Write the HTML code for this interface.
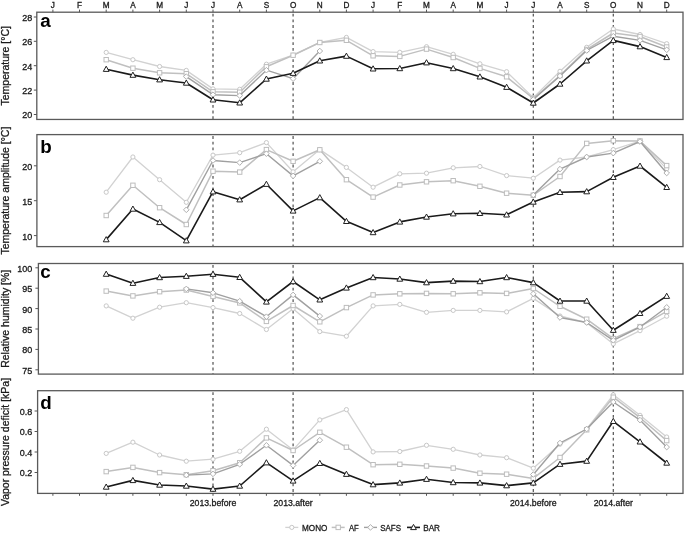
<!DOCTYPE html><html><head><meta charset="utf-8"><style>html,body{margin:0;padding:0;background:#fff;}svg{display:block;filter:grayscale(1) blur(0.35px);}text{font-family:"Liberation Sans",sans-serif;stroke:#1a1a1a;stroke-width:0.3px;fill:#1a1a1a;}</style></head><body>
<svg width="685" height="533" viewBox="0 0 685 533">
<rect width="685" height="533" fill="#fff"/>
<line x1="213.0" y1="13.7" x2="213.0" y2="119.45" stroke="#505050" stroke-width="1.2" stroke-dasharray="2.8 2.9"/>
<line x1="293.1" y1="13.7" x2="293.1" y2="119.45" stroke="#505050" stroke-width="1.2" stroke-dasharray="2.8 2.9"/>
<line x1="533.3" y1="13.7" x2="533.3" y2="119.45" stroke="#505050" stroke-width="1.2" stroke-dasharray="2.8 2.9"/>
<line x1="613.3" y1="13.7" x2="613.3" y2="119.45" stroke="#505050" stroke-width="1.2" stroke-dasharray="2.8 2.9"/>
<polyline points="106.2,52.4 132.9,59.7 159.6,66.5 186.3,70.4 213.0,88.9 239.7,89.3 266.4,64.2 293.1,55.2 319.8,42.5 346.4,37.4 373.1,51.6 399.8,52.3 426.5,46.7 453.2,54.3 479.9,63.8 506.6,71.7 533.3,97.6 560.0,71.3 586.7,47.3 613.3,29.0 640.0,34.5 666.7,43.7" fill="none" stroke="#d2d2d2" stroke-width="1.3" stroke-linejoin="round"/>
<circle cx="106.2" cy="52.4" r="2.1" fill="#fff" stroke="#c8c8c8" stroke-width="1"/>
<circle cx="132.9" cy="59.7" r="2.1" fill="#fff" stroke="#c8c8c8" stroke-width="1"/>
<circle cx="159.6" cy="66.5" r="2.1" fill="#fff" stroke="#c8c8c8" stroke-width="1"/>
<circle cx="186.3" cy="70.4" r="2.1" fill="#fff" stroke="#c8c8c8" stroke-width="1"/>
<circle cx="213.0" cy="88.9" r="2.1" fill="#fff" stroke="#c8c8c8" stroke-width="1"/>
<circle cx="239.7" cy="89.3" r="2.1" fill="#fff" stroke="#c8c8c8" stroke-width="1"/>
<circle cx="266.4" cy="64.2" r="2.1" fill="#fff" stroke="#c8c8c8" stroke-width="1"/>
<circle cx="293.1" cy="55.2" r="2.1" fill="#fff" stroke="#c8c8c8" stroke-width="1"/>
<circle cx="319.8" cy="42.5" r="2.1" fill="#fff" stroke="#c8c8c8" stroke-width="1"/>
<circle cx="346.4" cy="37.4" r="2.1" fill="#fff" stroke="#c8c8c8" stroke-width="1"/>
<circle cx="373.1" cy="51.6" r="2.1" fill="#fff" stroke="#c8c8c8" stroke-width="1"/>
<circle cx="399.8" cy="52.3" r="2.1" fill="#fff" stroke="#c8c8c8" stroke-width="1"/>
<circle cx="426.5" cy="46.7" r="2.1" fill="#fff" stroke="#c8c8c8" stroke-width="1"/>
<circle cx="453.2" cy="54.3" r="2.1" fill="#fff" stroke="#c8c8c8" stroke-width="1"/>
<circle cx="479.9" cy="63.8" r="2.1" fill="#fff" stroke="#c8c8c8" stroke-width="1"/>
<circle cx="506.6" cy="71.7" r="2.1" fill="#fff" stroke="#c8c8c8" stroke-width="1"/>
<circle cx="533.3" cy="97.6" r="2.1" fill="#fff" stroke="#c8c8c8" stroke-width="1"/>
<circle cx="560.0" cy="71.3" r="2.1" fill="#fff" stroke="#c8c8c8" stroke-width="1"/>
<circle cx="586.7" cy="47.3" r="2.1" fill="#fff" stroke="#c8c8c8" stroke-width="1"/>
<circle cx="613.3" cy="29.0" r="2.1" fill="#fff" stroke="#c8c8c8" stroke-width="1"/>
<circle cx="640.0" cy="34.5" r="2.1" fill="#fff" stroke="#c8c8c8" stroke-width="1"/>
<circle cx="666.7" cy="43.7" r="2.1" fill="#fff" stroke="#c8c8c8" stroke-width="1"/>
<polyline points="106.2,59.7 132.9,68.2 159.6,72.8 186.3,73.7 213.0,91.8 239.7,92.2 266.4,66.8 293.1,55.2 319.8,42.5 346.4,40.3 373.1,55.8 399.8,56.4 426.5,49.1 453.2,57.5 479.9,68.4 506.6,76.8 533.3,98.5 560.0,75.5 586.7,49.5 613.3,33.0 640.0,36.5 666.7,47.0" fill="none" stroke="#c0c0c0" stroke-width="1.5" stroke-linejoin="round"/>
<rect x="104.0" y="57.5" width="4.4" height="4.4" fill="#fff" stroke="#bdbdbd" stroke-width="1"/>
<rect x="130.7" y="66.0" width="4.4" height="4.4" fill="#fff" stroke="#bdbdbd" stroke-width="1"/>
<rect x="157.4" y="70.6" width="4.4" height="4.4" fill="#fff" stroke="#bdbdbd" stroke-width="1"/>
<rect x="184.1" y="71.5" width="4.4" height="4.4" fill="#fff" stroke="#bdbdbd" stroke-width="1"/>
<rect x="210.8" y="89.6" width="4.4" height="4.4" fill="#fff" stroke="#bdbdbd" stroke-width="1"/>
<rect x="237.5" y="90.0" width="4.4" height="4.4" fill="#fff" stroke="#bdbdbd" stroke-width="1"/>
<rect x="264.2" y="64.6" width="4.4" height="4.4" fill="#fff" stroke="#bdbdbd" stroke-width="1"/>
<rect x="290.9" y="53.0" width="4.4" height="4.4" fill="#fff" stroke="#bdbdbd" stroke-width="1"/>
<rect x="317.6" y="40.3" width="4.4" height="4.4" fill="#fff" stroke="#bdbdbd" stroke-width="1"/>
<rect x="344.2" y="38.1" width="4.4" height="4.4" fill="#fff" stroke="#bdbdbd" stroke-width="1"/>
<rect x="370.9" y="53.6" width="4.4" height="4.4" fill="#fff" stroke="#bdbdbd" stroke-width="1"/>
<rect x="397.6" y="54.2" width="4.4" height="4.4" fill="#fff" stroke="#bdbdbd" stroke-width="1"/>
<rect x="424.3" y="46.9" width="4.4" height="4.4" fill="#fff" stroke="#bdbdbd" stroke-width="1"/>
<rect x="451.0" y="55.3" width="4.4" height="4.4" fill="#fff" stroke="#bdbdbd" stroke-width="1"/>
<rect x="477.7" y="66.2" width="4.4" height="4.4" fill="#fff" stroke="#bdbdbd" stroke-width="1"/>
<rect x="504.4" y="74.6" width="4.4" height="4.4" fill="#fff" stroke="#bdbdbd" stroke-width="1"/>
<rect x="531.1" y="96.3" width="4.4" height="4.4" fill="#fff" stroke="#bdbdbd" stroke-width="1"/>
<rect x="557.8" y="73.3" width="4.4" height="4.4" fill="#fff" stroke="#bdbdbd" stroke-width="1"/>
<rect x="584.5" y="47.3" width="4.4" height="4.4" fill="#fff" stroke="#bdbdbd" stroke-width="1"/>
<rect x="611.1" y="30.8" width="4.4" height="4.4" fill="#fff" stroke="#bdbdbd" stroke-width="1"/>
<rect x="637.8" y="34.3" width="4.4" height="4.4" fill="#fff" stroke="#bdbdbd" stroke-width="1"/>
<rect x="664.5" y="44.8" width="4.4" height="4.4" fill="#fff" stroke="#bdbdbd" stroke-width="1"/>
<polyline points="186.3,76.6 213.0,94.7 239.7,95.6 266.4,70.2 293.1,78.7 319.8,51.0" fill="none" stroke="#a0a0a0" stroke-width="1.4" stroke-linejoin="round"/>
<polyline points="533.3,99.5 560.0,76.0 586.7,50.5 613.3,36.2 640.0,40.4 666.7,49.8" fill="none" stroke="#a0a0a0" stroke-width="1.4" stroke-linejoin="round"/>
<path d="M186.3 73.8L189.1 76.6L186.3 79.4L183.5 76.6Z" fill="#fff" stroke="#b0b0b0" stroke-width="1"/>
<path d="M213.0 91.9L215.8 94.7L213.0 97.5L210.2 94.7Z" fill="#fff" stroke="#b0b0b0" stroke-width="1"/>
<path d="M239.7 92.8L242.5 95.6L239.7 98.4L236.9 95.6Z" fill="#fff" stroke="#b0b0b0" stroke-width="1"/>
<path d="M266.4 67.4L269.2 70.2L266.4 73.0L263.6 70.2Z" fill="#fff" stroke="#b0b0b0" stroke-width="1"/>
<path d="M293.1 75.9L295.9 78.7L293.1 81.5L290.3 78.7Z" fill="#fff" stroke="#b0b0b0" stroke-width="1"/>
<path d="M319.8 48.2L322.6 51.0L319.8 53.8L317.0 51.0Z" fill="#fff" stroke="#b0b0b0" stroke-width="1"/>
<path d="M533.3 96.7L536.1 99.5L533.3 102.3L530.5 99.5Z" fill="#fff" stroke="#b0b0b0" stroke-width="1"/>
<path d="M560.0 73.2L562.8 76.0L560.0 78.8L557.2 76.0Z" fill="#fff" stroke="#b0b0b0" stroke-width="1"/>
<path d="M586.7 47.7L589.5 50.5L586.7 53.3L583.9 50.5Z" fill="#fff" stroke="#b0b0b0" stroke-width="1"/>
<path d="M613.3 33.4L616.1 36.2L613.3 39.0L610.5 36.2Z" fill="#fff" stroke="#b0b0b0" stroke-width="1"/>
<path d="M640.0 37.6L642.8 40.4L640.0 43.2L637.2 40.4Z" fill="#fff" stroke="#b0b0b0" stroke-width="1"/>
<path d="M666.7 47.0L669.5 49.8L666.7 52.6L663.9 49.8Z" fill="#fff" stroke="#b0b0b0" stroke-width="1"/>
<polyline points="106.2,69.2 132.9,75.1 159.6,79.7 186.3,83.0 213.0,99.8 239.7,102.8 266.4,79.0 293.1,73.2 319.8,60.8 346.4,56.1 373.1,68.8 399.8,68.5 426.5,62.7 453.2,68.5 479.9,76.8 506.6,87.2 533.3,103.0 560.0,84.0 586.7,60.8 613.3,40.4 640.0,46.6 666.7,57.4" fill="none" stroke="#1a1a1a" stroke-width="1.6" stroke-linejoin="round"/>
<path d="M106.2 66.2L109.1 71.4L103.3 71.4Z" fill="#fff" stroke="#222" stroke-width="1"/>
<path d="M132.9 72.1L135.8 77.3L130.0 77.3Z" fill="#fff" stroke="#222" stroke-width="1"/>
<path d="M159.6 76.7L162.5 81.9L156.7 81.9Z" fill="#fff" stroke="#222" stroke-width="1"/>
<path d="M186.3 80.0L189.2 85.2L183.4 85.2Z" fill="#fff" stroke="#222" stroke-width="1"/>
<path d="M213.0 96.8L215.9 102.0L210.1 102.0Z" fill="#fff" stroke="#222" stroke-width="1"/>
<path d="M239.7 99.8L242.6 105.0L236.8 105.0Z" fill="#fff" stroke="#222" stroke-width="1"/>
<path d="M266.4 76.0L269.3 81.2L263.5 81.2Z" fill="#fff" stroke="#222" stroke-width="1"/>
<path d="M293.1 70.2L296.0 75.4L290.2 75.4Z" fill="#fff" stroke="#222" stroke-width="1"/>
<path d="M319.8 57.8L322.7 63.0L316.9 63.0Z" fill="#fff" stroke="#222" stroke-width="1"/>
<path d="M346.4 53.1L349.3 58.3L343.5 58.3Z" fill="#fff" stroke="#222" stroke-width="1"/>
<path d="M373.1 65.8L376.0 71.0L370.2 71.0Z" fill="#fff" stroke="#222" stroke-width="1"/>
<path d="M399.8 65.5L402.7 70.7L396.9 70.7Z" fill="#fff" stroke="#222" stroke-width="1"/>
<path d="M426.5 59.7L429.4 64.9L423.6 64.9Z" fill="#fff" stroke="#222" stroke-width="1"/>
<path d="M453.2 65.5L456.1 70.7L450.3 70.7Z" fill="#fff" stroke="#222" stroke-width="1"/>
<path d="M479.9 73.8L482.8 79.0L477.0 79.0Z" fill="#fff" stroke="#222" stroke-width="1"/>
<path d="M506.6 84.2L509.5 89.4L503.7 89.4Z" fill="#fff" stroke="#222" stroke-width="1"/>
<path d="M533.3 100.0L536.2 105.2L530.4 105.2Z" fill="#fff" stroke="#222" stroke-width="1"/>
<path d="M560.0 81.0L562.9 86.2L557.1 86.2Z" fill="#fff" stroke="#222" stroke-width="1"/>
<path d="M586.7 57.8L589.6 63.0L583.8 63.0Z" fill="#fff" stroke="#222" stroke-width="1"/>
<path d="M613.3 37.4L616.2 42.6L610.4 42.6Z" fill="#fff" stroke="#222" stroke-width="1"/>
<path d="M640.0 43.6L642.9 48.8L637.1 48.8Z" fill="#fff" stroke="#222" stroke-width="1"/>
<path d="M666.7 54.4L669.6 59.6L663.8 59.6Z" fill="#fff" stroke="#222" stroke-width="1"/>
<rect x="36.8" y="12.2" width="646.2" height="107.25" fill="none" stroke="#5a5a5a" stroke-width="1.3"/>
<line x1="33.8" y1="17.0" x2="36.8" y2="17.0" stroke="#555" stroke-width="1"/>
<text x="32.3" y="20.9" font-size="9" text-anchor="end">28</text>
<line x1="33.8" y1="41.3" x2="36.8" y2="41.3" stroke="#555" stroke-width="1"/>
<text x="32.3" y="45.2" font-size="9" text-anchor="end">26</text>
<line x1="33.8" y1="65.7" x2="36.8" y2="65.7" stroke="#555" stroke-width="1"/>
<text x="32.3" y="69.6" font-size="9" text-anchor="end">24</text>
<line x1="33.8" y1="90.1" x2="36.8" y2="90.1" stroke="#555" stroke-width="1"/>
<text x="32.3" y="94.0" font-size="9" text-anchor="end">22</text>
<line x1="33.8" y1="114.5" x2="36.8" y2="114.5" stroke="#555" stroke-width="1"/>
<text x="32.3" y="118.4" font-size="9" text-anchor="end">20</text>
<text x="40.3" y="27.1" font-size="18.8" font-weight="bold" fill="#000" style="stroke:none;fill:#000">a</text>
<text transform="translate(9.4 65.8) rotate(-90)" font-size="10.5" text-anchor="middle" fill="#111">Temperature [°C]</text>
<line x1="213.0" y1="136.1" x2="213.0" y2="246.6" stroke="#505050" stroke-width="1.2" stroke-dasharray="2.8 2.9"/>
<line x1="293.1" y1="136.1" x2="293.1" y2="246.6" stroke="#505050" stroke-width="1.2" stroke-dasharray="2.8 2.9"/>
<line x1="533.3" y1="136.1" x2="533.3" y2="246.6" stroke="#505050" stroke-width="1.2" stroke-dasharray="2.8 2.9"/>
<line x1="613.3" y1="136.1" x2="613.3" y2="246.6" stroke="#505050" stroke-width="1.2" stroke-dasharray="2.8 2.9"/>
<polyline points="106.2,192.2 132.9,157.0 159.6,179.7 186.3,202.3 213.0,155.1 239.7,152.7 266.4,142.6 293.1,171.8 319.8,149.6 346.4,167.4 373.1,187.2 399.8,173.8 426.5,173.2 453.2,167.8 479.9,166.5 506.6,175.6 533.3,178.2 560.0,160.1 586.7,157.0 613.3,149.6 640.0,141.0 666.7,168.9" fill="none" stroke="#d2d2d2" stroke-width="1.3" stroke-linejoin="round"/>
<circle cx="106.2" cy="192.2" r="2.1" fill="#fff" stroke="#c8c8c8" stroke-width="1"/>
<circle cx="132.9" cy="157.0" r="2.1" fill="#fff" stroke="#c8c8c8" stroke-width="1"/>
<circle cx="159.6" cy="179.7" r="2.1" fill="#fff" stroke="#c8c8c8" stroke-width="1"/>
<circle cx="186.3" cy="202.3" r="2.1" fill="#fff" stroke="#c8c8c8" stroke-width="1"/>
<circle cx="213.0" cy="155.1" r="2.1" fill="#fff" stroke="#c8c8c8" stroke-width="1"/>
<circle cx="239.7" cy="152.7" r="2.1" fill="#fff" stroke="#c8c8c8" stroke-width="1"/>
<circle cx="266.4" cy="142.6" r="2.1" fill="#fff" stroke="#c8c8c8" stroke-width="1"/>
<circle cx="293.1" cy="171.8" r="2.1" fill="#fff" stroke="#c8c8c8" stroke-width="1"/>
<circle cx="319.8" cy="149.6" r="2.1" fill="#fff" stroke="#c8c8c8" stroke-width="1"/>
<circle cx="346.4" cy="167.4" r="2.1" fill="#fff" stroke="#c8c8c8" stroke-width="1"/>
<circle cx="373.1" cy="187.2" r="2.1" fill="#fff" stroke="#c8c8c8" stroke-width="1"/>
<circle cx="399.8" cy="173.8" r="2.1" fill="#fff" stroke="#c8c8c8" stroke-width="1"/>
<circle cx="426.5" cy="173.2" r="2.1" fill="#fff" stroke="#c8c8c8" stroke-width="1"/>
<circle cx="453.2" cy="167.8" r="2.1" fill="#fff" stroke="#c8c8c8" stroke-width="1"/>
<circle cx="479.9" cy="166.5" r="2.1" fill="#fff" stroke="#c8c8c8" stroke-width="1"/>
<circle cx="506.6" cy="175.6" r="2.1" fill="#fff" stroke="#c8c8c8" stroke-width="1"/>
<circle cx="533.3" cy="178.2" r="2.1" fill="#fff" stroke="#c8c8c8" stroke-width="1"/>
<circle cx="560.0" cy="160.1" r="2.1" fill="#fff" stroke="#c8c8c8" stroke-width="1"/>
<circle cx="586.7" cy="157.0" r="2.1" fill="#fff" stroke="#c8c8c8" stroke-width="1"/>
<circle cx="613.3" cy="149.6" r="2.1" fill="#fff" stroke="#c8c8c8" stroke-width="1"/>
<circle cx="640.0" cy="141.0" r="2.1" fill="#fff" stroke="#c8c8c8" stroke-width="1"/>
<circle cx="666.7" cy="168.9" r="2.1" fill="#fff" stroke="#c8c8c8" stroke-width="1"/>
<polyline points="106.2,215.5 132.9,185.3 159.6,207.7 186.3,224.5 213.0,171.2 239.7,172.1 266.4,149.6 293.1,161.3 319.8,149.8 346.4,179.7 373.1,197.1 399.8,185.0 426.5,181.8 453.2,180.7 479.9,186.3 506.6,193.2 533.3,195.2 560.0,176.5 586.7,143.4 613.3,140.7 640.0,141.0 666.7,165.6" fill="none" stroke="#c0c0c0" stroke-width="1.5" stroke-linejoin="round"/>
<rect x="104.0" y="213.3" width="4.4" height="4.4" fill="#fff" stroke="#bdbdbd" stroke-width="1"/>
<rect x="130.7" y="183.1" width="4.4" height="4.4" fill="#fff" stroke="#bdbdbd" stroke-width="1"/>
<rect x="157.4" y="205.5" width="4.4" height="4.4" fill="#fff" stroke="#bdbdbd" stroke-width="1"/>
<rect x="184.1" y="222.3" width="4.4" height="4.4" fill="#fff" stroke="#bdbdbd" stroke-width="1"/>
<rect x="210.8" y="169.0" width="4.4" height="4.4" fill="#fff" stroke="#bdbdbd" stroke-width="1"/>
<rect x="237.5" y="169.9" width="4.4" height="4.4" fill="#fff" stroke="#bdbdbd" stroke-width="1"/>
<rect x="264.2" y="147.4" width="4.4" height="4.4" fill="#fff" stroke="#bdbdbd" stroke-width="1"/>
<rect x="290.9" y="159.1" width="4.4" height="4.4" fill="#fff" stroke="#bdbdbd" stroke-width="1"/>
<rect x="317.6" y="147.6" width="4.4" height="4.4" fill="#fff" stroke="#bdbdbd" stroke-width="1"/>
<rect x="344.2" y="177.5" width="4.4" height="4.4" fill="#fff" stroke="#bdbdbd" stroke-width="1"/>
<rect x="370.9" y="194.9" width="4.4" height="4.4" fill="#fff" stroke="#bdbdbd" stroke-width="1"/>
<rect x="397.6" y="182.8" width="4.4" height="4.4" fill="#fff" stroke="#bdbdbd" stroke-width="1"/>
<rect x="424.3" y="179.6" width="4.4" height="4.4" fill="#fff" stroke="#bdbdbd" stroke-width="1"/>
<rect x="451.0" y="178.5" width="4.4" height="4.4" fill="#fff" stroke="#bdbdbd" stroke-width="1"/>
<rect x="477.7" y="184.1" width="4.4" height="4.4" fill="#fff" stroke="#bdbdbd" stroke-width="1"/>
<rect x="504.4" y="191.0" width="4.4" height="4.4" fill="#fff" stroke="#bdbdbd" stroke-width="1"/>
<rect x="531.1" y="193.0" width="4.4" height="4.4" fill="#fff" stroke="#bdbdbd" stroke-width="1"/>
<rect x="557.8" y="174.3" width="4.4" height="4.4" fill="#fff" stroke="#bdbdbd" stroke-width="1"/>
<rect x="584.5" y="141.2" width="4.4" height="4.4" fill="#fff" stroke="#bdbdbd" stroke-width="1"/>
<rect x="611.1" y="138.5" width="4.4" height="4.4" fill="#fff" stroke="#bdbdbd" stroke-width="1"/>
<rect x="637.8" y="138.8" width="4.4" height="4.4" fill="#fff" stroke="#bdbdbd" stroke-width="1"/>
<rect x="664.5" y="163.4" width="4.4" height="4.4" fill="#fff" stroke="#bdbdbd" stroke-width="1"/>
<polyline points="186.3,209.8 213.0,160.5 239.7,162.6 266.4,153.7 293.1,175.9 319.8,161.3" fill="none" stroke="#a0a0a0" stroke-width="1.4" stroke-linejoin="round"/>
<polyline points="533.3,195.0 560.0,169.1 586.7,157.0 613.3,153.1 640.0,141.5 666.7,173.0" fill="none" stroke="#a0a0a0" stroke-width="1.4" stroke-linejoin="round"/>
<path d="M186.3 207.0L189.1 209.8L186.3 212.6L183.5 209.8Z" fill="#fff" stroke="#b0b0b0" stroke-width="1"/>
<path d="M213.0 157.7L215.8 160.5L213.0 163.3L210.2 160.5Z" fill="#fff" stroke="#b0b0b0" stroke-width="1"/>
<path d="M239.7 159.8L242.5 162.6L239.7 165.4L236.9 162.6Z" fill="#fff" stroke="#b0b0b0" stroke-width="1"/>
<path d="M266.4 150.9L269.2 153.7L266.4 156.5L263.6 153.7Z" fill="#fff" stroke="#b0b0b0" stroke-width="1"/>
<path d="M293.1 173.1L295.9 175.9L293.1 178.7L290.3 175.9Z" fill="#fff" stroke="#b0b0b0" stroke-width="1"/>
<path d="M319.8 158.5L322.6 161.3L319.8 164.1L317.0 161.3Z" fill="#fff" stroke="#b0b0b0" stroke-width="1"/>
<path d="M533.3 192.2L536.1 195.0L533.3 197.8L530.5 195.0Z" fill="#fff" stroke="#b0b0b0" stroke-width="1"/>
<path d="M560.0 166.3L562.8 169.1L560.0 171.9L557.2 169.1Z" fill="#fff" stroke="#b0b0b0" stroke-width="1"/>
<path d="M586.7 154.2L589.5 157.0L586.7 159.8L583.9 157.0Z" fill="#fff" stroke="#b0b0b0" stroke-width="1"/>
<path d="M613.3 150.3L616.1 153.1L613.3 155.9L610.5 153.1Z" fill="#fff" stroke="#b0b0b0" stroke-width="1"/>
<path d="M640.0 138.7L642.8 141.5L640.0 144.3L637.2 141.5Z" fill="#fff" stroke="#b0b0b0" stroke-width="1"/>
<path d="M666.7 170.2L669.5 173.0L666.7 175.8L663.9 173.0Z" fill="#fff" stroke="#b0b0b0" stroke-width="1"/>
<polyline points="106.2,239.6 132.9,209.0 159.6,222.4 186.3,240.7 213.0,191.7 239.7,199.7 266.4,184.2 293.1,210.9 319.8,197.6 346.4,221.3 373.1,232.5 399.8,221.9 426.5,217.0 453.2,213.7 479.9,213.3 506.6,214.8 533.3,202.0 560.0,192.3 586.7,191.6 613.3,177.3 640.0,166.0 666.7,187.3" fill="none" stroke="#1a1a1a" stroke-width="1.6" stroke-linejoin="round"/>
<path d="M106.2 236.6L109.1 241.8L103.3 241.8Z" fill="#fff" stroke="#222" stroke-width="1"/>
<path d="M132.9 206.0L135.8 211.2L130.0 211.2Z" fill="#fff" stroke="#222" stroke-width="1"/>
<path d="M159.6 219.4L162.5 224.6L156.7 224.6Z" fill="#fff" stroke="#222" stroke-width="1"/>
<path d="M186.3 237.7L189.2 242.9L183.4 242.9Z" fill="#fff" stroke="#222" stroke-width="1"/>
<path d="M213.0 188.7L215.9 193.9L210.1 193.9Z" fill="#fff" stroke="#222" stroke-width="1"/>
<path d="M239.7 196.7L242.6 201.9L236.8 201.9Z" fill="#fff" stroke="#222" stroke-width="1"/>
<path d="M266.4 181.2L269.3 186.4L263.5 186.4Z" fill="#fff" stroke="#222" stroke-width="1"/>
<path d="M293.1 207.9L296.0 213.1L290.2 213.1Z" fill="#fff" stroke="#222" stroke-width="1"/>
<path d="M319.8 194.6L322.7 199.8L316.9 199.8Z" fill="#fff" stroke="#222" stroke-width="1"/>
<path d="M346.4 218.3L349.3 223.5L343.5 223.5Z" fill="#fff" stroke="#222" stroke-width="1"/>
<path d="M373.1 229.5L376.0 234.7L370.2 234.7Z" fill="#fff" stroke="#222" stroke-width="1"/>
<path d="M399.8 218.9L402.7 224.1L396.9 224.1Z" fill="#fff" stroke="#222" stroke-width="1"/>
<path d="M426.5 214.0L429.4 219.2L423.6 219.2Z" fill="#fff" stroke="#222" stroke-width="1"/>
<path d="M453.2 210.7L456.1 215.9L450.3 215.9Z" fill="#fff" stroke="#222" stroke-width="1"/>
<path d="M479.9 210.3L482.8 215.5L477.0 215.5Z" fill="#fff" stroke="#222" stroke-width="1"/>
<path d="M506.6 211.8L509.5 217.0L503.7 217.0Z" fill="#fff" stroke="#222" stroke-width="1"/>
<path d="M533.3 199.0L536.2 204.2L530.4 204.2Z" fill="#fff" stroke="#222" stroke-width="1"/>
<path d="M560.0 189.3L562.9 194.5L557.1 194.5Z" fill="#fff" stroke="#222" stroke-width="1"/>
<path d="M586.7 188.6L589.6 193.8L583.8 193.8Z" fill="#fff" stroke="#222" stroke-width="1"/>
<path d="M613.3 174.3L616.2 179.5L610.4 179.5Z" fill="#fff" stroke="#222" stroke-width="1"/>
<path d="M640.0 163.0L642.9 168.2L637.1 168.2Z" fill="#fff" stroke="#222" stroke-width="1"/>
<path d="M666.7 184.3L669.6 189.5L663.8 189.5Z" fill="#fff" stroke="#222" stroke-width="1"/>
<rect x="36.9" y="134.6" width="646.1" height="112.00" fill="none" stroke="#5a5a5a" stroke-width="1.3"/>
<line x1="33.9" y1="165.8" x2="36.9" y2="165.8" stroke="#555" stroke-width="1"/>
<text x="32.3" y="169.7" font-size="9" text-anchor="end">20</text>
<line x1="33.9" y1="200.7" x2="36.9" y2="200.7" stroke="#555" stroke-width="1"/>
<text x="32.3" y="204.6" font-size="9" text-anchor="end">15</text>
<line x1="33.9" y1="235.6" x2="36.9" y2="235.6" stroke="#555" stroke-width="1"/>
<text x="32.3" y="239.5" font-size="9" text-anchor="end">10</text>
<text x="40.3" y="153.1" font-size="18.8" font-weight="bold" fill="#000" style="stroke:none;fill:#000">b</text>
<text transform="translate(9.4 190.6) rotate(-90)" font-size="10.5" text-anchor="middle" fill="#111">Temperature amplitude [°C]</text>
<line x1="213.0" y1="265.0" x2="213.0" y2="374.1" stroke="#505050" stroke-width="1.2" stroke-dasharray="2.8 2.9"/>
<line x1="293.1" y1="265.0" x2="293.1" y2="374.1" stroke="#505050" stroke-width="1.2" stroke-dasharray="2.8 2.9"/>
<line x1="533.3" y1="265.0" x2="533.3" y2="374.1" stroke="#505050" stroke-width="1.2" stroke-dasharray="2.8 2.9"/>
<line x1="613.3" y1="265.0" x2="613.3" y2="374.1" stroke="#505050" stroke-width="1.2" stroke-dasharray="2.8 2.9"/>
<polyline points="106.2,305.9 132.9,318.2 159.6,307.2 186.3,302.7 213.0,307.6 239.7,313.5 266.4,329.5 293.1,308.7 319.8,331.6 346.4,336.2 373.1,305.9 399.8,304.4 426.5,312.3 453.2,310.4 479.9,310.4 506.6,311.9 533.3,298.4 560.0,316.0 586.7,322.7 613.3,343.9 640.0,330.7 666.7,316.2" fill="none" stroke="#d2d2d2" stroke-width="1.3" stroke-linejoin="round"/>
<circle cx="106.2" cy="305.9" r="2.1" fill="#fff" stroke="#c8c8c8" stroke-width="1"/>
<circle cx="132.9" cy="318.2" r="2.1" fill="#fff" stroke="#c8c8c8" stroke-width="1"/>
<circle cx="159.6" cy="307.2" r="2.1" fill="#fff" stroke="#c8c8c8" stroke-width="1"/>
<circle cx="186.3" cy="302.7" r="2.1" fill="#fff" stroke="#c8c8c8" stroke-width="1"/>
<circle cx="213.0" cy="307.6" r="2.1" fill="#fff" stroke="#c8c8c8" stroke-width="1"/>
<circle cx="239.7" cy="313.5" r="2.1" fill="#fff" stroke="#c8c8c8" stroke-width="1"/>
<circle cx="266.4" cy="329.5" r="2.1" fill="#fff" stroke="#c8c8c8" stroke-width="1"/>
<circle cx="293.1" cy="308.7" r="2.1" fill="#fff" stroke="#c8c8c8" stroke-width="1"/>
<circle cx="319.8" cy="331.6" r="2.1" fill="#fff" stroke="#c8c8c8" stroke-width="1"/>
<circle cx="346.4" cy="336.2" r="2.1" fill="#fff" stroke="#c8c8c8" stroke-width="1"/>
<circle cx="373.1" cy="305.9" r="2.1" fill="#fff" stroke="#c8c8c8" stroke-width="1"/>
<circle cx="399.8" cy="304.4" r="2.1" fill="#fff" stroke="#c8c8c8" stroke-width="1"/>
<circle cx="426.5" cy="312.3" r="2.1" fill="#fff" stroke="#c8c8c8" stroke-width="1"/>
<circle cx="453.2" cy="310.4" r="2.1" fill="#fff" stroke="#c8c8c8" stroke-width="1"/>
<circle cx="479.9" cy="310.4" r="2.1" fill="#fff" stroke="#c8c8c8" stroke-width="1"/>
<circle cx="506.6" cy="311.9" r="2.1" fill="#fff" stroke="#c8c8c8" stroke-width="1"/>
<circle cx="533.3" cy="298.4" r="2.1" fill="#fff" stroke="#c8c8c8" stroke-width="1"/>
<circle cx="560.0" cy="316.0" r="2.1" fill="#fff" stroke="#c8c8c8" stroke-width="1"/>
<circle cx="586.7" cy="322.7" r="2.1" fill="#fff" stroke="#c8c8c8" stroke-width="1"/>
<circle cx="613.3" cy="343.9" r="2.1" fill="#fff" stroke="#c8c8c8" stroke-width="1"/>
<circle cx="640.0" cy="330.7" r="2.1" fill="#fff" stroke="#c8c8c8" stroke-width="1"/>
<circle cx="666.7" cy="316.2" r="2.1" fill="#fff" stroke="#c8c8c8" stroke-width="1"/>
<polyline points="106.2,291.1 132.9,295.9 159.6,291.7 186.3,290.0 213.0,296.4 239.7,302.9 266.4,321.4 293.1,305.5 319.8,321.8 346.4,307.6 373.1,294.9 399.8,293.8 426.5,293.4 453.2,293.8 479.9,292.8 506.6,293.4 533.3,288.5 560.0,306.3 586.7,319.2 613.3,338.6 640.0,326.6 666.7,311.4" fill="none" stroke="#c0c0c0" stroke-width="1.5" stroke-linejoin="round"/>
<rect x="104.0" y="288.9" width="4.4" height="4.4" fill="#fff" stroke="#bdbdbd" stroke-width="1"/>
<rect x="130.7" y="293.7" width="4.4" height="4.4" fill="#fff" stroke="#bdbdbd" stroke-width="1"/>
<rect x="157.4" y="289.5" width="4.4" height="4.4" fill="#fff" stroke="#bdbdbd" stroke-width="1"/>
<rect x="184.1" y="287.8" width="4.4" height="4.4" fill="#fff" stroke="#bdbdbd" stroke-width="1"/>
<rect x="210.8" y="294.2" width="4.4" height="4.4" fill="#fff" stroke="#bdbdbd" stroke-width="1"/>
<rect x="237.5" y="300.7" width="4.4" height="4.4" fill="#fff" stroke="#bdbdbd" stroke-width="1"/>
<rect x="264.2" y="319.2" width="4.4" height="4.4" fill="#fff" stroke="#bdbdbd" stroke-width="1"/>
<rect x="290.9" y="303.3" width="4.4" height="4.4" fill="#fff" stroke="#bdbdbd" stroke-width="1"/>
<rect x="317.6" y="319.6" width="4.4" height="4.4" fill="#fff" stroke="#bdbdbd" stroke-width="1"/>
<rect x="344.2" y="305.4" width="4.4" height="4.4" fill="#fff" stroke="#bdbdbd" stroke-width="1"/>
<rect x="370.9" y="292.7" width="4.4" height="4.4" fill="#fff" stroke="#bdbdbd" stroke-width="1"/>
<rect x="397.6" y="291.6" width="4.4" height="4.4" fill="#fff" stroke="#bdbdbd" stroke-width="1"/>
<rect x="424.3" y="291.2" width="4.4" height="4.4" fill="#fff" stroke="#bdbdbd" stroke-width="1"/>
<rect x="451.0" y="291.6" width="4.4" height="4.4" fill="#fff" stroke="#bdbdbd" stroke-width="1"/>
<rect x="477.7" y="290.6" width="4.4" height="4.4" fill="#fff" stroke="#bdbdbd" stroke-width="1"/>
<rect x="504.4" y="291.2" width="4.4" height="4.4" fill="#fff" stroke="#bdbdbd" stroke-width="1"/>
<rect x="531.1" y="286.3" width="4.4" height="4.4" fill="#fff" stroke="#bdbdbd" stroke-width="1"/>
<rect x="557.8" y="304.1" width="4.4" height="4.4" fill="#fff" stroke="#bdbdbd" stroke-width="1"/>
<rect x="584.5" y="317.0" width="4.4" height="4.4" fill="#fff" stroke="#bdbdbd" stroke-width="1"/>
<rect x="611.1" y="336.4" width="4.4" height="4.4" fill="#fff" stroke="#bdbdbd" stroke-width="1"/>
<rect x="637.8" y="324.4" width="4.4" height="4.4" fill="#fff" stroke="#bdbdbd" stroke-width="1"/>
<rect x="664.5" y="309.2" width="4.4" height="4.4" fill="#fff" stroke="#bdbdbd" stroke-width="1"/>
<polyline points="186.3,288.9 213.0,292.8 239.7,301.2 266.4,316.7 293.1,294.9 319.8,316.1" fill="none" stroke="#a0a0a0" stroke-width="1.4" stroke-linejoin="round"/>
<polyline points="533.3,293.8 560.0,317.5 586.7,322.5 613.3,340.3 640.0,327.0 666.7,307.3" fill="none" stroke="#a0a0a0" stroke-width="1.4" stroke-linejoin="round"/>
<path d="M186.3 286.1L189.1 288.9L186.3 291.7L183.5 288.9Z" fill="#fff" stroke="#b0b0b0" stroke-width="1"/>
<path d="M213.0 290.0L215.8 292.8L213.0 295.6L210.2 292.8Z" fill="#fff" stroke="#b0b0b0" stroke-width="1"/>
<path d="M239.7 298.4L242.5 301.2L239.7 304.0L236.9 301.2Z" fill="#fff" stroke="#b0b0b0" stroke-width="1"/>
<path d="M266.4 313.9L269.2 316.7L266.4 319.5L263.6 316.7Z" fill="#fff" stroke="#b0b0b0" stroke-width="1"/>
<path d="M293.1 292.1L295.9 294.9L293.1 297.7L290.3 294.9Z" fill="#fff" stroke="#b0b0b0" stroke-width="1"/>
<path d="M319.8 313.3L322.6 316.1L319.8 318.9L317.0 316.1Z" fill="#fff" stroke="#b0b0b0" stroke-width="1"/>
<path d="M533.3 291.0L536.1 293.8L533.3 296.6L530.5 293.8Z" fill="#fff" stroke="#b0b0b0" stroke-width="1"/>
<path d="M560.0 314.7L562.8 317.5L560.0 320.3L557.2 317.5Z" fill="#fff" stroke="#b0b0b0" stroke-width="1"/>
<path d="M586.7 319.7L589.5 322.5L586.7 325.3L583.9 322.5Z" fill="#fff" stroke="#b0b0b0" stroke-width="1"/>
<path d="M613.3 337.5L616.1 340.3L613.3 343.1L610.5 340.3Z" fill="#fff" stroke="#b0b0b0" stroke-width="1"/>
<path d="M640.0 324.2L642.8 327.0L640.0 329.8L637.2 327.0Z" fill="#fff" stroke="#b0b0b0" stroke-width="1"/>
<path d="M666.7 304.5L669.5 307.3L666.7 310.1L663.9 307.3Z" fill="#fff" stroke="#b0b0b0" stroke-width="1"/>
<polyline points="106.2,274.1 132.9,283.2 159.6,277.5 186.3,276.2 213.0,274.2 239.7,277.3 266.4,301.9 293.1,281.5 319.8,299.8 346.4,287.9 373.1,277.5 399.8,279.0 426.5,282.6 453.2,281.1 479.9,281.5 506.6,277.5 533.3,282.6 560.0,301.0 586.7,301.0 613.3,330.2 640.0,313.3 666.7,296.2" fill="none" stroke="#1a1a1a" stroke-width="1.6" stroke-linejoin="round"/>
<path d="M106.2 271.1L109.1 276.3L103.3 276.3Z" fill="#fff" stroke="#222" stroke-width="1"/>
<path d="M132.9 280.2L135.8 285.4L130.0 285.4Z" fill="#fff" stroke="#222" stroke-width="1"/>
<path d="M159.6 274.5L162.5 279.7L156.7 279.7Z" fill="#fff" stroke="#222" stroke-width="1"/>
<path d="M186.3 273.2L189.2 278.4L183.4 278.4Z" fill="#fff" stroke="#222" stroke-width="1"/>
<path d="M213.0 271.2L215.9 276.4L210.1 276.4Z" fill="#fff" stroke="#222" stroke-width="1"/>
<path d="M239.7 274.3L242.6 279.5L236.8 279.5Z" fill="#fff" stroke="#222" stroke-width="1"/>
<path d="M266.4 298.9L269.3 304.1L263.5 304.1Z" fill="#fff" stroke="#222" stroke-width="1"/>
<path d="M293.1 278.5L296.0 283.7L290.2 283.7Z" fill="#fff" stroke="#222" stroke-width="1"/>
<path d="M319.8 296.8L322.7 302.0L316.9 302.0Z" fill="#fff" stroke="#222" stroke-width="1"/>
<path d="M346.4 284.9L349.3 290.1L343.5 290.1Z" fill="#fff" stroke="#222" stroke-width="1"/>
<path d="M373.1 274.5L376.0 279.7L370.2 279.7Z" fill="#fff" stroke="#222" stroke-width="1"/>
<path d="M399.8 276.0L402.7 281.2L396.9 281.2Z" fill="#fff" stroke="#222" stroke-width="1"/>
<path d="M426.5 279.6L429.4 284.8L423.6 284.8Z" fill="#fff" stroke="#222" stroke-width="1"/>
<path d="M453.2 278.1L456.1 283.3L450.3 283.3Z" fill="#fff" stroke="#222" stroke-width="1"/>
<path d="M479.9 278.5L482.8 283.7L477.0 283.7Z" fill="#fff" stroke="#222" stroke-width="1"/>
<path d="M506.6 274.5L509.5 279.7L503.7 279.7Z" fill="#fff" stroke="#222" stroke-width="1"/>
<path d="M533.3 279.6L536.2 284.8L530.4 284.8Z" fill="#fff" stroke="#222" stroke-width="1"/>
<path d="M560.0 298.0L562.9 303.2L557.1 303.2Z" fill="#fff" stroke="#222" stroke-width="1"/>
<path d="M586.7 298.0L589.6 303.2L583.8 303.2Z" fill="#fff" stroke="#222" stroke-width="1"/>
<path d="M613.3 327.2L616.2 332.4L610.4 332.4Z" fill="#fff" stroke="#222" stroke-width="1"/>
<path d="M640.0 310.3L642.9 315.5L637.1 315.5Z" fill="#fff" stroke="#222" stroke-width="1"/>
<path d="M666.7 293.2L669.6 298.4L663.8 298.4Z" fill="#fff" stroke="#222" stroke-width="1"/>
<rect x="38.4" y="263.5" width="644.6" height="110.60" fill="none" stroke="#5a5a5a" stroke-width="1.3"/>
<line x1="35.4" y1="267.8" x2="38.4" y2="267.8" stroke="#555" stroke-width="1"/>
<text x="32.3" y="271.7" font-size="9" text-anchor="end">100</text>
<line x1="35.4" y1="288.2" x2="38.4" y2="288.2" stroke="#555" stroke-width="1"/>
<text x="32.3" y="292.1" font-size="9" text-anchor="end">95</text>
<line x1="35.4" y1="308.6" x2="38.4" y2="308.6" stroke="#555" stroke-width="1"/>
<text x="32.3" y="312.5" font-size="9" text-anchor="end">90</text>
<line x1="35.4" y1="329.0" x2="38.4" y2="329.0" stroke="#555" stroke-width="1"/>
<text x="32.3" y="332.9" font-size="9" text-anchor="end">85</text>
<line x1="35.4" y1="349.4" x2="38.4" y2="349.4" stroke="#555" stroke-width="1"/>
<text x="32.3" y="353.3" font-size="9" text-anchor="end">80</text>
<line x1="35.4" y1="369.8" x2="38.4" y2="369.8" stroke="#555" stroke-width="1"/>
<text x="32.3" y="373.7" font-size="9" text-anchor="end">75</text>
<text x="40.3" y="278.1" font-size="18.8" font-weight="bold" fill="#000" style="stroke:none;fill:#000">c</text>
<text transform="translate(9.4 318.8) rotate(-90)" font-size="10.5" text-anchor="middle" fill="#111">Relative humidity [%]</text>
<line x1="213.0" y1="392.2" x2="213.0" y2="493.4" stroke="#505050" stroke-width="1.2" stroke-dasharray="2.8 2.9"/>
<line x1="293.1" y1="392.2" x2="293.1" y2="493.4" stroke="#505050" stroke-width="1.2" stroke-dasharray="2.8 2.9"/>
<line x1="533.3" y1="392.2" x2="533.3" y2="493.4" stroke="#505050" stroke-width="1.2" stroke-dasharray="2.8 2.9"/>
<line x1="613.3" y1="392.2" x2="613.3" y2="493.4" stroke="#505050" stroke-width="1.2" stroke-dasharray="2.8 2.9"/>
<polyline points="106.2,453.4 132.9,442.2 159.6,455.0 186.3,461.2 213.0,459.2 239.7,451.3 266.4,429.2 293.1,449.9 319.8,419.9 346.4,409.6 373.1,451.9 399.8,451.5 426.5,445.3 453.2,449.3 479.9,455.0 506.6,457.7 533.3,468.2 560.0,444.2 586.7,429.0 613.3,394.8 640.0,415.3 666.7,437.0" fill="none" stroke="#d2d2d2" stroke-width="1.3" stroke-linejoin="round"/>
<circle cx="106.2" cy="453.4" r="2.1" fill="#fff" stroke="#c8c8c8" stroke-width="1"/>
<circle cx="132.9" cy="442.2" r="2.1" fill="#fff" stroke="#c8c8c8" stroke-width="1"/>
<circle cx="159.6" cy="455.0" r="2.1" fill="#fff" stroke="#c8c8c8" stroke-width="1"/>
<circle cx="186.3" cy="461.2" r="2.1" fill="#fff" stroke="#c8c8c8" stroke-width="1"/>
<circle cx="213.0" cy="459.2" r="2.1" fill="#fff" stroke="#c8c8c8" stroke-width="1"/>
<circle cx="239.7" cy="451.3" r="2.1" fill="#fff" stroke="#c8c8c8" stroke-width="1"/>
<circle cx="266.4" cy="429.2" r="2.1" fill="#fff" stroke="#c8c8c8" stroke-width="1"/>
<circle cx="293.1" cy="449.9" r="2.1" fill="#fff" stroke="#c8c8c8" stroke-width="1"/>
<circle cx="319.8" cy="419.9" r="2.1" fill="#fff" stroke="#c8c8c8" stroke-width="1"/>
<circle cx="346.4" cy="409.6" r="2.1" fill="#fff" stroke="#c8c8c8" stroke-width="1"/>
<circle cx="373.1" cy="451.9" r="2.1" fill="#fff" stroke="#c8c8c8" stroke-width="1"/>
<circle cx="399.8" cy="451.5" r="2.1" fill="#fff" stroke="#c8c8c8" stroke-width="1"/>
<circle cx="426.5" cy="445.3" r="2.1" fill="#fff" stroke="#c8c8c8" stroke-width="1"/>
<circle cx="453.2" cy="449.3" r="2.1" fill="#fff" stroke="#c8c8c8" stroke-width="1"/>
<circle cx="479.9" cy="455.0" r="2.1" fill="#fff" stroke="#c8c8c8" stroke-width="1"/>
<circle cx="506.6" cy="457.7" r="2.1" fill="#fff" stroke="#c8c8c8" stroke-width="1"/>
<circle cx="533.3" cy="468.2" r="2.1" fill="#fff" stroke="#c8c8c8" stroke-width="1"/>
<circle cx="560.0" cy="444.2" r="2.1" fill="#fff" stroke="#c8c8c8" stroke-width="1"/>
<circle cx="586.7" cy="429.0" r="2.1" fill="#fff" stroke="#c8c8c8" stroke-width="1"/>
<circle cx="613.3" cy="394.8" r="2.1" fill="#fff" stroke="#c8c8c8" stroke-width="1"/>
<circle cx="640.0" cy="415.3" r="2.1" fill="#fff" stroke="#c8c8c8" stroke-width="1"/>
<circle cx="666.7" cy="437.0" r="2.1" fill="#fff" stroke="#c8c8c8" stroke-width="1"/>
<polyline points="106.2,471.6 132.9,467.4 159.6,472.6 186.3,474.7 213.0,470.7 239.7,462.7 266.4,437.9 293.1,450.5 319.8,432.3 346.4,447.2 373.1,464.7 399.8,464.3 426.5,466.0 453.2,468.1 479.9,473.2 506.6,474.2 533.3,478.4 560.0,457.5 586.7,429.8 613.3,397.2 640.0,417.7 666.7,440.6" fill="none" stroke="#c0c0c0" stroke-width="1.5" stroke-linejoin="round"/>
<rect x="104.0" y="469.4" width="4.4" height="4.4" fill="#fff" stroke="#bdbdbd" stroke-width="1"/>
<rect x="130.7" y="465.2" width="4.4" height="4.4" fill="#fff" stroke="#bdbdbd" stroke-width="1"/>
<rect x="157.4" y="470.4" width="4.4" height="4.4" fill="#fff" stroke="#bdbdbd" stroke-width="1"/>
<rect x="184.1" y="472.5" width="4.4" height="4.4" fill="#fff" stroke="#bdbdbd" stroke-width="1"/>
<rect x="210.8" y="468.5" width="4.4" height="4.4" fill="#fff" stroke="#bdbdbd" stroke-width="1"/>
<rect x="237.5" y="460.5" width="4.4" height="4.4" fill="#fff" stroke="#bdbdbd" stroke-width="1"/>
<rect x="264.2" y="435.7" width="4.4" height="4.4" fill="#fff" stroke="#bdbdbd" stroke-width="1"/>
<rect x="290.9" y="448.3" width="4.4" height="4.4" fill="#fff" stroke="#bdbdbd" stroke-width="1"/>
<rect x="317.6" y="430.1" width="4.4" height="4.4" fill="#fff" stroke="#bdbdbd" stroke-width="1"/>
<rect x="344.2" y="445.0" width="4.4" height="4.4" fill="#fff" stroke="#bdbdbd" stroke-width="1"/>
<rect x="370.9" y="462.5" width="4.4" height="4.4" fill="#fff" stroke="#bdbdbd" stroke-width="1"/>
<rect x="397.6" y="462.1" width="4.4" height="4.4" fill="#fff" stroke="#bdbdbd" stroke-width="1"/>
<rect x="424.3" y="463.8" width="4.4" height="4.4" fill="#fff" stroke="#bdbdbd" stroke-width="1"/>
<rect x="451.0" y="465.9" width="4.4" height="4.4" fill="#fff" stroke="#bdbdbd" stroke-width="1"/>
<rect x="477.7" y="471.0" width="4.4" height="4.4" fill="#fff" stroke="#bdbdbd" stroke-width="1"/>
<rect x="504.4" y="472.0" width="4.4" height="4.4" fill="#fff" stroke="#bdbdbd" stroke-width="1"/>
<rect x="531.1" y="476.2" width="4.4" height="4.4" fill="#fff" stroke="#bdbdbd" stroke-width="1"/>
<rect x="557.8" y="455.3" width="4.4" height="4.4" fill="#fff" stroke="#bdbdbd" stroke-width="1"/>
<rect x="584.5" y="427.6" width="4.4" height="4.4" fill="#fff" stroke="#bdbdbd" stroke-width="1"/>
<rect x="611.1" y="395.0" width="4.4" height="4.4" fill="#fff" stroke="#bdbdbd" stroke-width="1"/>
<rect x="637.8" y="415.5" width="4.4" height="4.4" fill="#fff" stroke="#bdbdbd" stroke-width="1"/>
<rect x="664.5" y="438.4" width="4.4" height="4.4" fill="#fff" stroke="#bdbdbd" stroke-width="1"/>
<polyline points="186.3,475.1 213.0,473.9 239.7,464.3 266.4,445.3 293.1,465.4 319.8,440.2" fill="none" stroke="#a0a0a0" stroke-width="1.4" stroke-linejoin="round"/>
<polyline points="533.3,474.5 560.0,443.0 586.7,429.0 613.3,402.0 640.0,420.1 666.7,447.1" fill="none" stroke="#a0a0a0" stroke-width="1.4" stroke-linejoin="round"/>
<path d="M186.3 472.3L189.1 475.1L186.3 477.9L183.5 475.1Z" fill="#fff" stroke="#b0b0b0" stroke-width="1"/>
<path d="M213.0 471.1L215.8 473.9L213.0 476.7L210.2 473.9Z" fill="#fff" stroke="#b0b0b0" stroke-width="1"/>
<path d="M239.7 461.5L242.5 464.3L239.7 467.1L236.9 464.3Z" fill="#fff" stroke="#b0b0b0" stroke-width="1"/>
<path d="M266.4 442.5L269.2 445.3L266.4 448.1L263.6 445.3Z" fill="#fff" stroke="#b0b0b0" stroke-width="1"/>
<path d="M293.1 462.6L295.9 465.4L293.1 468.2L290.3 465.4Z" fill="#fff" stroke="#b0b0b0" stroke-width="1"/>
<path d="M319.8 437.4L322.6 440.2L319.8 443.0L317.0 440.2Z" fill="#fff" stroke="#b0b0b0" stroke-width="1"/>
<path d="M533.3 471.7L536.1 474.5L533.3 477.3L530.5 474.5Z" fill="#fff" stroke="#b0b0b0" stroke-width="1"/>
<path d="M560.0 440.2L562.8 443.0L560.0 445.8L557.2 443.0Z" fill="#fff" stroke="#b0b0b0" stroke-width="1"/>
<path d="M586.7 426.2L589.5 429.0L586.7 431.8L583.9 429.0Z" fill="#fff" stroke="#b0b0b0" stroke-width="1"/>
<path d="M613.3 399.2L616.1 402.0L613.3 404.8L610.5 402.0Z" fill="#fff" stroke="#b0b0b0" stroke-width="1"/>
<path d="M640.0 417.3L642.8 420.1L640.0 422.9L637.2 420.1Z" fill="#fff" stroke="#b0b0b0" stroke-width="1"/>
<path d="M666.7 444.3L669.5 447.1L666.7 449.9L663.9 447.1Z" fill="#fff" stroke="#b0b0b0" stroke-width="1"/>
<polyline points="106.2,487.0 132.9,480.4 159.6,485.0 186.3,486.0 213.0,489.1 239.7,486.0 266.4,462.7 293.1,480.9 319.8,463.3 346.4,474.2 373.1,484.6 399.8,482.9 426.5,479.2 453.2,482.5 479.9,482.9 506.6,485.6 533.3,482.9 560.0,464.2 586.7,461.1 613.3,421.3 640.0,441.8 666.7,463.0" fill="none" stroke="#1a1a1a" stroke-width="1.6" stroke-linejoin="round"/>
<path d="M106.2 484.0L109.1 489.2L103.3 489.2Z" fill="#fff" stroke="#222" stroke-width="1"/>
<path d="M132.9 477.4L135.8 482.6L130.0 482.6Z" fill="#fff" stroke="#222" stroke-width="1"/>
<path d="M159.6 482.0L162.5 487.2L156.7 487.2Z" fill="#fff" stroke="#222" stroke-width="1"/>
<path d="M186.3 483.0L189.2 488.2L183.4 488.2Z" fill="#fff" stroke="#222" stroke-width="1"/>
<path d="M213.0 486.1L215.9 491.3L210.1 491.3Z" fill="#fff" stroke="#222" stroke-width="1"/>
<path d="M239.7 483.0L242.6 488.2L236.8 488.2Z" fill="#fff" stroke="#222" stroke-width="1"/>
<path d="M266.4 459.7L269.3 464.9L263.5 464.9Z" fill="#fff" stroke="#222" stroke-width="1"/>
<path d="M293.1 477.9L296.0 483.1L290.2 483.1Z" fill="#fff" stroke="#222" stroke-width="1"/>
<path d="M319.8 460.3L322.7 465.5L316.9 465.5Z" fill="#fff" stroke="#222" stroke-width="1"/>
<path d="M346.4 471.2L349.3 476.4L343.5 476.4Z" fill="#fff" stroke="#222" stroke-width="1"/>
<path d="M373.1 481.6L376.0 486.8L370.2 486.8Z" fill="#fff" stroke="#222" stroke-width="1"/>
<path d="M399.8 479.9L402.7 485.1L396.9 485.1Z" fill="#fff" stroke="#222" stroke-width="1"/>
<path d="M426.5 476.2L429.4 481.4L423.6 481.4Z" fill="#fff" stroke="#222" stroke-width="1"/>
<path d="M453.2 479.5L456.1 484.7L450.3 484.7Z" fill="#fff" stroke="#222" stroke-width="1"/>
<path d="M479.9 479.9L482.8 485.1L477.0 485.1Z" fill="#fff" stroke="#222" stroke-width="1"/>
<path d="M506.6 482.6L509.5 487.8L503.7 487.8Z" fill="#fff" stroke="#222" stroke-width="1"/>
<path d="M533.3 479.9L536.2 485.1L530.4 485.1Z" fill="#fff" stroke="#222" stroke-width="1"/>
<path d="M560.0 461.2L562.9 466.4L557.1 466.4Z" fill="#fff" stroke="#222" stroke-width="1"/>
<path d="M586.7 458.1L589.6 463.3L583.8 463.3Z" fill="#fff" stroke="#222" stroke-width="1"/>
<path d="M613.3 418.3L616.2 423.5L610.4 423.5Z" fill="#fff" stroke="#222" stroke-width="1"/>
<path d="M640.0 438.8L642.9 444.0L637.1 444.0Z" fill="#fff" stroke="#222" stroke-width="1"/>
<path d="M666.7 460.0L669.6 465.2L663.8 465.2Z" fill="#fff" stroke="#222" stroke-width="1"/>
<rect x="37.6" y="390.7" width="645.4" height="102.70" fill="none" stroke="#5a5a5a" stroke-width="1.3"/>
<line x1="34.6" y1="411.0" x2="37.6" y2="411.0" stroke="#555" stroke-width="1"/>
<text x="32.3" y="414.9" font-size="9" text-anchor="end">0.8</text>
<line x1="34.6" y1="431.5" x2="37.6" y2="431.5" stroke="#555" stroke-width="1"/>
<text x="32.3" y="435.4" font-size="9" text-anchor="end">0.6</text>
<line x1="34.6" y1="452.0" x2="37.6" y2="452.0" stroke="#555" stroke-width="1"/>
<text x="32.3" y="455.9" font-size="9" text-anchor="end">0.4</text>
<line x1="34.6" y1="472.5" x2="37.6" y2="472.5" stroke="#555" stroke-width="1"/>
<text x="32.3" y="476.4" font-size="9" text-anchor="end">0.2</text>
<text x="40.3" y="408.7" font-size="18.8" font-weight="bold" fill="#000" style="stroke:none;fill:#000">d</text>
<text transform="translate(9.4 442.0) rotate(-90)" font-size="10.5" text-anchor="middle" fill="#111">Vapor pressure deficit [kPa]</text>
<line x1="52.9" y1="9.6" x2="52.9" y2="12.2" stroke="#555" stroke-width="1"/>
<text x="52.9" y="7.6" font-size="8.2" text-anchor="middle">J</text>
<line x1="79.5" y1="9.6" x2="79.5" y2="12.2" stroke="#555" stroke-width="1"/>
<text x="79.5" y="7.6" font-size="8.2" text-anchor="middle">F</text>
<line x1="106.2" y1="9.6" x2="106.2" y2="12.2" stroke="#555" stroke-width="1"/>
<text x="106.2" y="7.6" font-size="8.2" text-anchor="middle">M</text>
<line x1="132.9" y1="9.6" x2="132.9" y2="12.2" stroke="#555" stroke-width="1"/>
<text x="132.9" y="7.6" font-size="8.2" text-anchor="middle">A</text>
<line x1="159.6" y1="9.6" x2="159.6" y2="12.2" stroke="#555" stroke-width="1"/>
<text x="159.6" y="7.6" font-size="8.2" text-anchor="middle">M</text>
<line x1="186.3" y1="9.6" x2="186.3" y2="12.2" stroke="#555" stroke-width="1"/>
<text x="186.3" y="7.6" font-size="8.2" text-anchor="middle">J</text>
<line x1="213.0" y1="9.6" x2="213.0" y2="12.2" stroke="#555" stroke-width="1"/>
<text x="213.0" y="7.6" font-size="8.2" text-anchor="middle">J</text>
<line x1="239.7" y1="9.6" x2="239.7" y2="12.2" stroke="#555" stroke-width="1"/>
<text x="239.7" y="7.6" font-size="8.2" text-anchor="middle">A</text>
<line x1="266.4" y1="9.6" x2="266.4" y2="12.2" stroke="#555" stroke-width="1"/>
<text x="266.4" y="7.6" font-size="8.2" text-anchor="middle">S</text>
<line x1="293.1" y1="9.6" x2="293.1" y2="12.2" stroke="#555" stroke-width="1"/>
<text x="293.1" y="7.6" font-size="8.2" text-anchor="middle">O</text>
<line x1="319.8" y1="9.6" x2="319.8" y2="12.2" stroke="#555" stroke-width="1"/>
<text x="319.8" y="7.6" font-size="8.2" text-anchor="middle">N</text>
<line x1="346.4" y1="9.6" x2="346.4" y2="12.2" stroke="#555" stroke-width="1"/>
<text x="346.4" y="7.6" font-size="8.2" text-anchor="middle">D</text>
<line x1="373.1" y1="9.6" x2="373.1" y2="12.2" stroke="#555" stroke-width="1"/>
<text x="373.1" y="7.6" font-size="8.2" text-anchor="middle">J</text>
<line x1="399.8" y1="9.6" x2="399.8" y2="12.2" stroke="#555" stroke-width="1"/>
<text x="399.8" y="7.6" font-size="8.2" text-anchor="middle">F</text>
<line x1="426.5" y1="9.6" x2="426.5" y2="12.2" stroke="#555" stroke-width="1"/>
<text x="426.5" y="7.6" font-size="8.2" text-anchor="middle">M</text>
<line x1="453.2" y1="9.6" x2="453.2" y2="12.2" stroke="#555" stroke-width="1"/>
<text x="453.2" y="7.6" font-size="8.2" text-anchor="middle">A</text>
<line x1="479.9" y1="9.6" x2="479.9" y2="12.2" stroke="#555" stroke-width="1"/>
<text x="479.9" y="7.6" font-size="8.2" text-anchor="middle">M</text>
<line x1="506.6" y1="9.6" x2="506.6" y2="12.2" stroke="#555" stroke-width="1"/>
<text x="506.6" y="7.6" font-size="8.2" text-anchor="middle">J</text>
<line x1="533.3" y1="9.6" x2="533.3" y2="12.2" stroke="#555" stroke-width="1"/>
<text x="533.3" y="7.6" font-size="8.2" text-anchor="middle">J</text>
<line x1="560.0" y1="9.6" x2="560.0" y2="12.2" stroke="#555" stroke-width="1"/>
<text x="560.0" y="7.6" font-size="8.2" text-anchor="middle">A</text>
<line x1="586.7" y1="9.6" x2="586.7" y2="12.2" stroke="#555" stroke-width="1"/>
<text x="586.7" y="7.6" font-size="8.2" text-anchor="middle">S</text>
<line x1="613.3" y1="9.6" x2="613.3" y2="12.2" stroke="#555" stroke-width="1"/>
<text x="613.3" y="7.6" font-size="8.2" text-anchor="middle">O</text>
<line x1="640.0" y1="9.6" x2="640.0" y2="12.2" stroke="#555" stroke-width="1"/>
<text x="640.0" y="7.6" font-size="8.2" text-anchor="middle">N</text>
<line x1="666.7" y1="9.6" x2="666.7" y2="12.2" stroke="#555" stroke-width="1"/>
<text x="666.7" y="7.6" font-size="8.2" text-anchor="middle">D</text>
<line x1="52.9" y1="493.4" x2="52.9" y2="495.79999999999995" stroke="#555" stroke-width="1"/>
<line x1="79.5" y1="493.4" x2="79.5" y2="495.79999999999995" stroke="#555" stroke-width="1"/>
<line x1="106.2" y1="493.4" x2="106.2" y2="495.79999999999995" stroke="#555" stroke-width="1"/>
<line x1="132.9" y1="493.4" x2="132.9" y2="495.79999999999995" stroke="#555" stroke-width="1"/>
<line x1="159.6" y1="493.4" x2="159.6" y2="495.79999999999995" stroke="#555" stroke-width="1"/>
<line x1="186.3" y1="493.4" x2="186.3" y2="495.79999999999995" stroke="#555" stroke-width="1"/>
<line x1="213.0" y1="493.4" x2="213.0" y2="495.79999999999995" stroke="#555" stroke-width="1"/>
<line x1="239.7" y1="493.4" x2="239.7" y2="495.79999999999995" stroke="#555" stroke-width="1"/>
<line x1="266.4" y1="493.4" x2="266.4" y2="495.79999999999995" stroke="#555" stroke-width="1"/>
<line x1="293.1" y1="493.4" x2="293.1" y2="495.79999999999995" stroke="#555" stroke-width="1"/>
<line x1="319.8" y1="493.4" x2="319.8" y2="495.79999999999995" stroke="#555" stroke-width="1"/>
<line x1="346.4" y1="493.4" x2="346.4" y2="495.79999999999995" stroke="#555" stroke-width="1"/>
<line x1="373.1" y1="493.4" x2="373.1" y2="495.79999999999995" stroke="#555" stroke-width="1"/>
<line x1="399.8" y1="493.4" x2="399.8" y2="495.79999999999995" stroke="#555" stroke-width="1"/>
<line x1="426.5" y1="493.4" x2="426.5" y2="495.79999999999995" stroke="#555" stroke-width="1"/>
<line x1="453.2" y1="493.4" x2="453.2" y2="495.79999999999995" stroke="#555" stroke-width="1"/>
<line x1="479.9" y1="493.4" x2="479.9" y2="495.79999999999995" stroke="#555" stroke-width="1"/>
<line x1="506.6" y1="493.4" x2="506.6" y2="495.79999999999995" stroke="#555" stroke-width="1"/>
<line x1="533.3" y1="493.4" x2="533.3" y2="495.79999999999995" stroke="#555" stroke-width="1"/>
<line x1="560.0" y1="493.4" x2="560.0" y2="495.79999999999995" stroke="#555" stroke-width="1"/>
<line x1="586.7" y1="493.4" x2="586.7" y2="495.79999999999995" stroke="#555" stroke-width="1"/>
<line x1="613.3" y1="493.4" x2="613.3" y2="495.79999999999995" stroke="#555" stroke-width="1"/>
<line x1="640.0" y1="493.4" x2="640.0" y2="495.79999999999995" stroke="#555" stroke-width="1"/>
<line x1="666.7" y1="493.4" x2="666.7" y2="495.79999999999995" stroke="#555" stroke-width="1"/>
<text x="189.7" y="506" font-size="9" textLength="46.6" lengthAdjust="spacingAndGlyphs">2013.before</text>
<text x="273.5" y="506" font-size="9" textLength="39.2" lengthAdjust="spacingAndGlyphs">2013.after</text>
<text x="510.0" y="506" font-size="9" textLength="46.6" lengthAdjust="spacingAndGlyphs">2014.before</text>
<text x="593.7" y="506" font-size="9" textLength="39.2" lengthAdjust="spacingAndGlyphs">2014.after</text>
<line x1="285.3" y1="527.4" x2="298.3" y2="527.4" stroke="#d2d2d2" stroke-width="1.3"/>
<circle cx="291.8" cy="527.4" r="2.1" fill="#fff" stroke="#c8c8c8" stroke-width="1"/>
<text x="302.0" y="531.2" font-size="9" textLength="25.4" lengthAdjust="spacingAndGlyphs">MONO</text>
<line x1="331.7" y1="527.4" x2="344.7" y2="527.4" stroke="#c0c0c0" stroke-width="1.5"/>
<rect x="336.0" y="525.2" width="4.4" height="4.4" fill="#fff" stroke="#bdbdbd" stroke-width="1"/>
<text x="349.0" y="531.2" font-size="9" textLength="9.8" lengthAdjust="spacingAndGlyphs">AF</text>
<line x1="364.0" y1="527.4" x2="377.0" y2="527.4" stroke="#a0a0a0" stroke-width="1.4"/>
<path d="M370.5 524.6L373.3 527.4L370.5 530.2L367.7 527.4Z" fill="#fff" stroke="#b0b0b0" stroke-width="1"/>
<text x="380.2" y="531.2" font-size="9" textLength="20.8" lengthAdjust="spacingAndGlyphs">SAFS</text>
<line x1="407.0" y1="527.4" x2="420.0" y2="527.4" stroke="#1a1a1a" stroke-width="1.6"/>
<path d="M413.5 524.4L416.4 529.6L410.6 529.6Z" fill="#fff" stroke="#222" stroke-width="1"/>
<text x="423.2" y="531.2" font-size="9" textLength="16.8" lengthAdjust="spacingAndGlyphs">BAR</text>
</svg></body></html>
